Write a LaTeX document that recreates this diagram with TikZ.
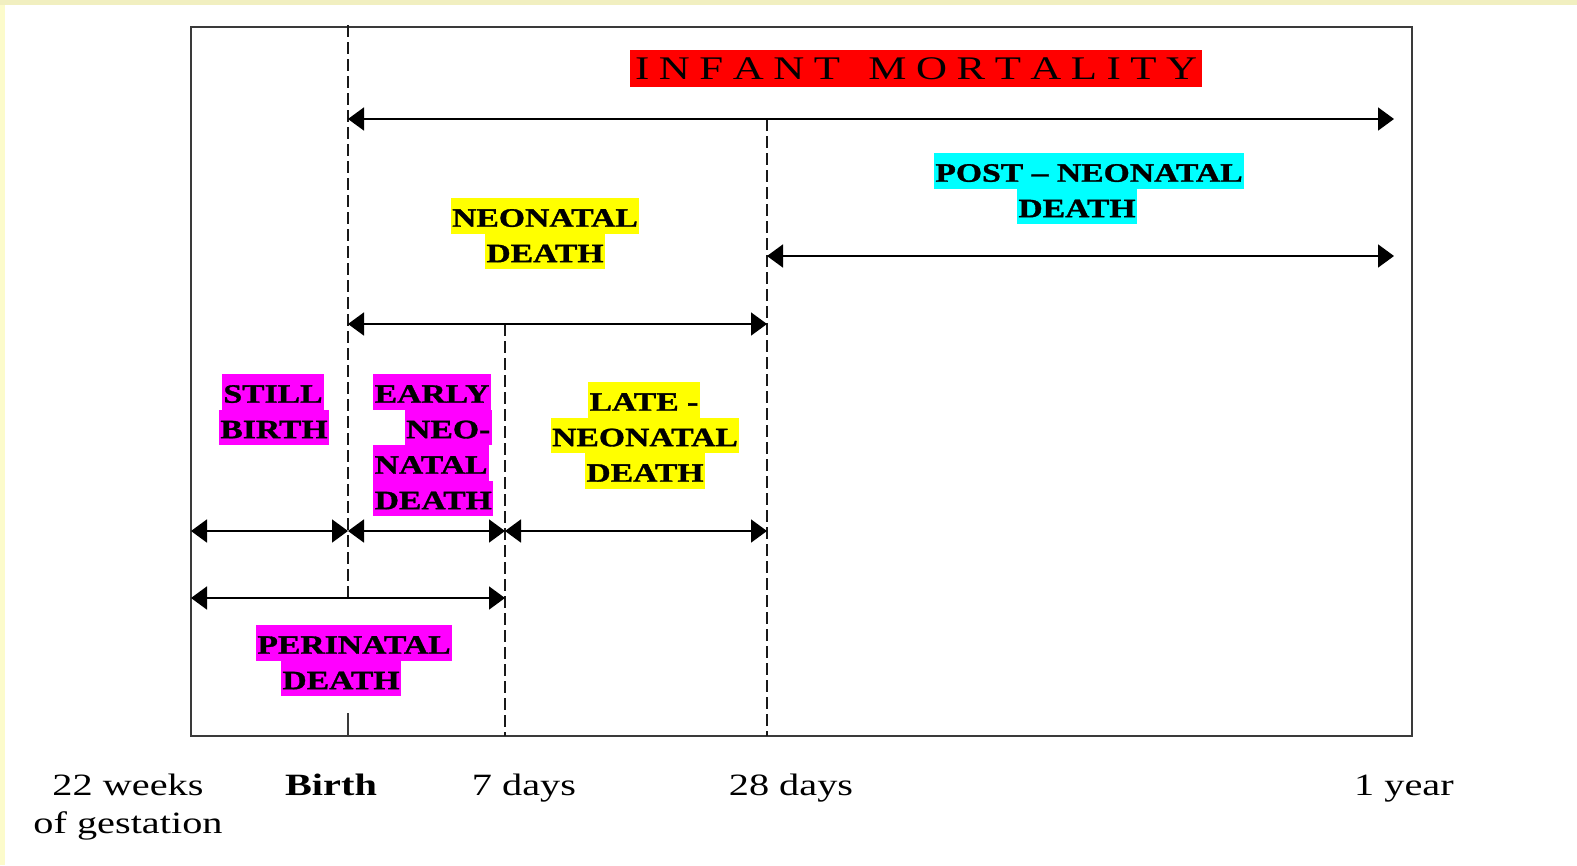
\documentclass[tikz,border=0pt]{standalone}
\usepackage{fontspec}
\setmainfont{Liberation Serif}[FakeStretch=1.3]
\newfontfamily\lblfont{Liberation Serif}[FakeStretch=1.27, BoldFeatures={FakeBold=1.2}]
\usetikzlibrary{arrows.meta}
\definecolor{bordertop}{HTML}{F1EFC0}
\definecolor{borderleft}{HTML}{FCFBCB}
\definecolor{framegray}{HTML}{3A3A3A}
\definecolor{hlmagenta}{HTML}{FF00FF}
\definecolor{hlyellow}{HTML}{FFFF00}
\definecolor{hlcyan}{HTML}{00FFFF}
\definecolor{hlred}{HTML}{FF0000}
\begin{document}
\begin{tikzpicture}[x=1pt,y=-1pt,
  lbl/.style={font=\lblfont\fontsize{26.5}{30}\selectfont\bfseries, inner xsep=1.5pt, inner ysep=0pt, text height=28.5pt, text depth=7pt},
  tm/.style={font=\fontsize{31}{36}\selectfont, inner sep=0pt, anchor=base},
  arr/.style={line width=1.8pt, {Triangle[length=16pt,width=23pt]}-{Triangle[length=16pt,width=23pt]}},
  dsh/.style={line width=2pt, dash pattern=on 12pt off 5pt, color=black!90},
]
\useasboundingbox (0,0) rectangle (1577,865);
\fill[white] (0,0) rectangle (1577,865);
\fill[borderleft] (0,0) rectangle (5,865);
\fill[bordertop] (0,0) rectangle (1577,5);

% frame
\draw[line width=1.6pt, framegray] (191,27) rectangle (1412,736);

% coordinates
\coordinate (im-l) at (348,119);
\coordinate (im-r) at (1394,119);
\coordinate (pn-l) at (767,256);
\coordinate (pn-r) at (1394,256);
\coordinate (nn-l) at (348,324);
\coordinate (nn-r) at (767,324);
\coordinate (r-a) at (191,531);
\coordinate (r-b) at (348,531);
\coordinate (r-c) at (505,531);
\coordinate (r-d) at (767,531);
\coordinate (p-l) at (191,598);
\coordinate (p-r) at (505,598);
\coordinate (bt) at (348,25);
\coordinate (bb) at (348,598);
\coordinate (tk-t) at (348,713);
\coordinate (tk-b) at (348,736);
\coordinate (s7-t) at (505,324);
\coordinate (s7-b) at (505,736);
\coordinate (s28-t) at (767,119);
\coordinate (s28-b) at (767,736);

% dashed time lines
\draw[dsh] (bt) -- (bb);
\draw[dsh] (s7-t) -- (s7-b);
\draw[dsh] (s28-t) -- (s28-b);
\draw[line width=1.6pt, framegray] (tk-t) -- (tk-b);

% arrows
\draw[arr] (im-l) -- (im-r);
\draw[arr] (pn-l) -- (pn-r);
\draw[arr] (nn-l) -- (nn-r);
\draw[arr] (r-a) -- (r-b);
\draw[arr] (r-b) -- (r-c);
\draw[arr] (r-c) -- (r-d);
\draw[arr] (p-l) -- (p-r);

% title
\node[fill=hlred, inner sep=0pt, minimum width=572pt, minimum height=37pt, anchor=north west] (inf) at (630,50)
  {\fontsize{33}{36}\selectfont\makebox[562pt][s]{I\hfill N\hfill F\hfill A\hfill N\hfill T\hfill\hfill\hfill M\hfill O\hfill R\hfill T\hfill A\hfill L\hfill I\hfill T\hfill Y}};

% labels
\node[lbl, fill=hlyellow, anchor=north] (neo1) at (545,198) {NEONATAL};
\node[lbl, fill=hlyellow, anchor=north] (neo2) at (545,233.5) {DEATH};

\node[lbl, fill=hlcyan, anchor=north] (post1) at (1089,153) {POST – NEONATAL};
\node[lbl, fill=hlcyan, anchor=north] (post2) at (1077,188.5) {DEATH};

\node[lbl, fill=hlmagenta, anchor=north] (sb1) at (273,374) {STILL};
\node[lbl, fill=hlmagenta, anchor=north] (sb2) at (274,409.5) {BIRTH};

\node[lbl, fill=hlmagenta, anchor=north west] (en1) at (373,374) {EARLY};
\node[lbl, fill=hlmagenta, anchor=north east] (en2) at (492,409.5) {NEO-};
\node[lbl, fill=hlmagenta, anchor=north west] (en3) at (373,445) {NATAL};
\node[lbl, fill=hlmagenta, anchor=north west] (en4) at (373,480.5) {DEATH};

\node[lbl, fill=hlyellow, anchor=north] (ln1) at (644,382) {LATE -};
\node[lbl, fill=hlyellow, anchor=north] (ln2) at (645,417.5) {NEONATAL};
\node[lbl, fill=hlyellow, anchor=north] (ln3) at (645,453) {DEATH};

\node[lbl, fill=hlmagenta, anchor=north] (pd1) at (354,625) {PERINATAL};
\node[lbl, fill=hlmagenta, anchor=north] (pd2) at (341,660.5) {DEATH};

% time axis labels
\node[tm] (t22a) at (128,795) {22 weeks};
\node[tm] (t22b) at (128,833) {of gestation};
\node[tm] (tbirth) at (331,795) {\bfseries Birth};
\node[tm] (t7) at (524,795) {7 days};
\node[tm] (t28) at (791,795) {28 days};
\node[tm] (t1y) at (1404,795) {1 year};
\end{tikzpicture}
\end{document}
